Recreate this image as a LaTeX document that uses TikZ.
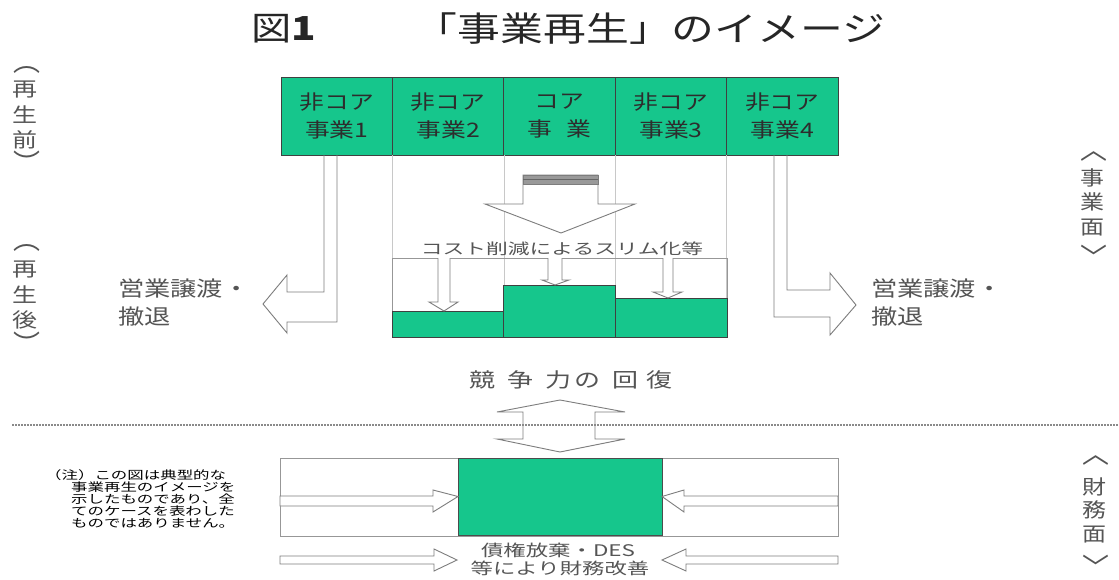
\documentclass[tikz,border=0pt]{standalone}
\usepackage{fontspec}
\setmainfont{Noto Sans CJK JP}
\definecolor{grn}{RGB}{22,198,140}
\definecolor{txt}{RGB}{45,45,45}
\definecolor{lbl}{RGB}{85,85,85}
\definecolor{edge}{RGB}{125,125,125}
\definecolor{guide}{RGB}{200,200,200}
\newcommand{\xs}[2][1.25]{\scalebox{#1}[1]{#2}}
\begin{document}
\begin{tikzpicture}[x=1pt,y=-1pt,
  every node/.style={inner sep=0pt, outer sep=0pt},
  bizbox/.style={draw=black!75, line width=0.8pt, fill=grn, minimum width=111.4pt, minimum height=78pt,
     align=center, text=txt, font=\fontsize{20}{28}\selectfont},
  bar/.style={draw=black!75, line width=0.8pt, fill=grn},
  hollow/.style={draw=edge, line width=0.9pt, fill=white, line join=miter},
  guideline/.style={draw=guide, line width=0.6pt},
  vlab/.style={text=lbl, font=\fontsize{20}{20}\selectfont},
  brk/.style={text=lbl, font=\fontsize{27}{27}\selectfont},
  side/.style={text=lbl, font=\fontsize{21}{21}\selectfont, anchor=west},
]
\useasboundingbox (0,0) rectangle (1119,580);
\fill[white] (0,0) rectangle (1119,580);

% title
\node[text=black!85, font=\fontsize{33}{33}\selectfont] (t1) at (284,29) {\xs[1.22]{図\textbf{1}}};
\node[text=black!85, font=\fontsize{34}{34}\selectfont] (t2) at (650,29) {\xs[1.26]{「事業再生」のイメージ}};

% top business boxes
\node[bizbox] (b1) at (336.7,116) {\xs[1.24]{非コア}\\\xs[1.24]{事業1}};
\node[bizbox] (b2) at (448.1,116) {\xs[1.24]{非コア}\\\xs[1.24]{事業2}};
\node[bizbox] (b3) at (559.5,116) {\xs[1.24]{コア}\\\xs[1.24]{事\hspace{12pt}業}};
\node[bizbox] (b4) at (670.9,116) {\xs[1.24]{非コア}\\\xs[1.24]{事業3}};
\node[bizbox] (b5) at (782.3,116) {\xs[1.24]{非コア}\\\xs[1.24]{事業4}};

% guide lines
\draw[guideline] (b1.south east) -- ++(0,182);
\draw[guideline] (b2.south east) -- ++(0,182);
\draw[guideline] (b3.south east) -- ++(0,182);
\draw[guideline] (b4.south east) -- ++(0,182);

% slim-down frame and bars
\node[draw=edge!80, line width=0.7pt, minimum width=335pt, minimum height=79pt] (slim) at (559.5,297.5) {};
\draw[bar] (392,311) rectangle (503.5,337);
\draw[bar] (503.5,285) rectangle (615,337);
\draw[bar] (615,298) rectangle (727,337);

% big down arrow
\draw[hollow] (523,175) -- (598,175) -- (598,204) -- (635,204) -- (561,233) -- (485,204) -- (523,204) -- cycle;
\fill[black!40] (523,175) rectangle (598,184);
\draw[edge, line width=0.9pt] (523,175) rectangle (598,184);
\draw[black!60, line width=0.5pt] (523,179.5) -- (598,179.5);

\node[text=lbl, font=\fontsize{15}{15}\selectfont] (cost) at (562,249) {\xs[1.45]{コスト削減によるスリム化等}};

% small down arrows
\draw[hollow] (438,258) -- (438,302) -- (429,302) -- (444,311) -- (458,302) -- (450,302) -- (450,258);
\draw[hollow] (548,258) -- (548,280) -- (542,280) -- (555,285) -- (569,280) -- (562,280) -- (562,258);
\draw[hollow] (663,258) -- (663,292) -- (653,292) -- (668,298) -- (682,292) -- (673,292) -- (673,258);

% L-shaped arrows
\draw[hollow, fill=none] (b1.south -| 324,0) -- (324,292) -- (287,292) -- (287,275) -- (263,304) -- (287,333) -- (287,322) -- (337,322) -- (b1.south -| 337,0);
\draw[hollow, fill=none] (b5.south -| 787,0) -- (787,290) -- (830,290) -- (830,273) -- (856,305) -- (830,335) -- (830,317) -- (774,317) -- (b5.south -| 774,0);

\node[side] (l1) at (118,289) {\xs[1.25]{営業譲渡・}};
\node[side] (l2) at (118,317) {\xs[1.25]{撤退}};
\node[side] (r1) at (871,289) {\xs[1.25]{営業譲渡・}};
\node[side] (r2) at (871,317) {\xs[1.25]{撤退}};

% left vertical labels
\node[brk] (p1) at (27,70) {︵};
\node[vlab] (p2) at (25,90) {\xs{再}};
\node[vlab] (p3) at (25,115) {\xs{生}};
\node[vlab] (p4) at (25,140) {\xs{前}};
\node[brk] (p5) at (27,162) {︶};
\node[brk] (q1) at (27,248) {︵};
\node[vlab] (q2) at (25,270) {\xs{再}};
\node[vlab] (q3) at (25,295) {\xs{生}};
\node[vlab] (q4) at (25,320) {\xs{後}};
\node[brk] (q5) at (27,343) {︶};

% right vertical labels
\node[brk] (s1) at (1094,156) {︿};
\node[vlab] (s2) at (1092,178) {\xs[1.2]{事}};
\node[vlab] (s3) at (1092,202) {\xs[1.2]{業}};
\node[vlab] (s4) at (1092,228) {\xs[1.2]{面}};
\node[brk] (s5) at (1094,256) {﹀};
\node[brk] (f1) at (1096,460) {︿};
\node[vlab] (f2) at (1094,487) {\xs[1.2]{財}};
\node[vlab] (f3) at (1094,510) {\xs[1.2]{務}};
\node[vlab] (f4) at (1094,535) {\xs[1.2]{面}};
\node[brk] (f5) at (1096,566) {﹀};

% competitiveness
\node[text=lbl, font=\fontsize{20}{20}\selectfont] (comp) at (571,380) {\xs[1.3]{競\hspace{9pt}争\hspace{9pt}力\hspace{3pt}の\hspace{9pt}回\hspace{6pt}復}};

% double arrow
\draw[hollow, fill=none] (560,400) -- (625,412) -- (595,412) -- (595,439) -- (625,439) -- (560,452) -- (497,439) -- (523,439) -- (523,412) -- (497,412) -- cycle;

% dotted separator
\draw[edge!90, line width=1.6pt, dash pattern=on 1.6pt off 1.4pt] (12,425) -- (1119,425);

% financial part
\node[draw=edge!80, line width=0.8pt, minimum width=558pt, minimum height=78pt] (fin) at (559,497) {};
\node[draw=black!70, line width=0.8pt, fill=grn, minimum width=204pt, minimum height=77pt] (core) at (560,496.5) {};

\draw[hollow] (fin.west |- 0,496) -- (433,496) -- (433,490) -- (core.west) -- (433,512) -- (433,506) -- (fin.west |- 0,506) -- cycle;
\draw[hollow] (fin.east |- 0,496) -- (684,496) -- (684,490) -- (core.east) -- (684,512) -- (684,506) -- (fin.east |- 0,506) -- cycle;

\coordinate (lt) at (457,560);
\coordinate (rt) at (662,560);
\draw[hollow] (280,556) -- (434,556) -- (434,549) -- (lt) -- (434,571) -- (434,564) -- (280,564) -- cycle;
\draw[hollow] (838,556) -- (686,556) -- (686,549) -- (rt) -- (686,571) -- (686,564) -- (838,564) -- cycle;

\node[text=lbl, font=\fontsize{16}{16}\selectfont] (d1) at (558,550) {\xs[1.4]{債権放棄・DES}};
\node[text=lbl, font=\fontsize{16}{16}\selectfont] (d2) at (560,568) {\xs[1.4]{等により財務改善}};

% note
\begin{scope}[every node/.style={anchor=west, inner sep=0pt, text=black, font=\fontsize{11.5}{12}\selectfont}]
\node (n1) at (45,475) {\xs[1.43]{（注）この図は典型的な}};
\node (n2) at (71,487) {\xs[1.43]{事業再生のイメージを}};
\node (n3) at (71,499) {\xs[1.43]{示したものであり、全}};
\node (n4) at (71,511) {\xs[1.43]{てのケースを表わした}};
\node (n5) at (71,523) {\xs[1.43]{ものではありません。}};
\end{scope}
\end{tikzpicture}
\end{document}
